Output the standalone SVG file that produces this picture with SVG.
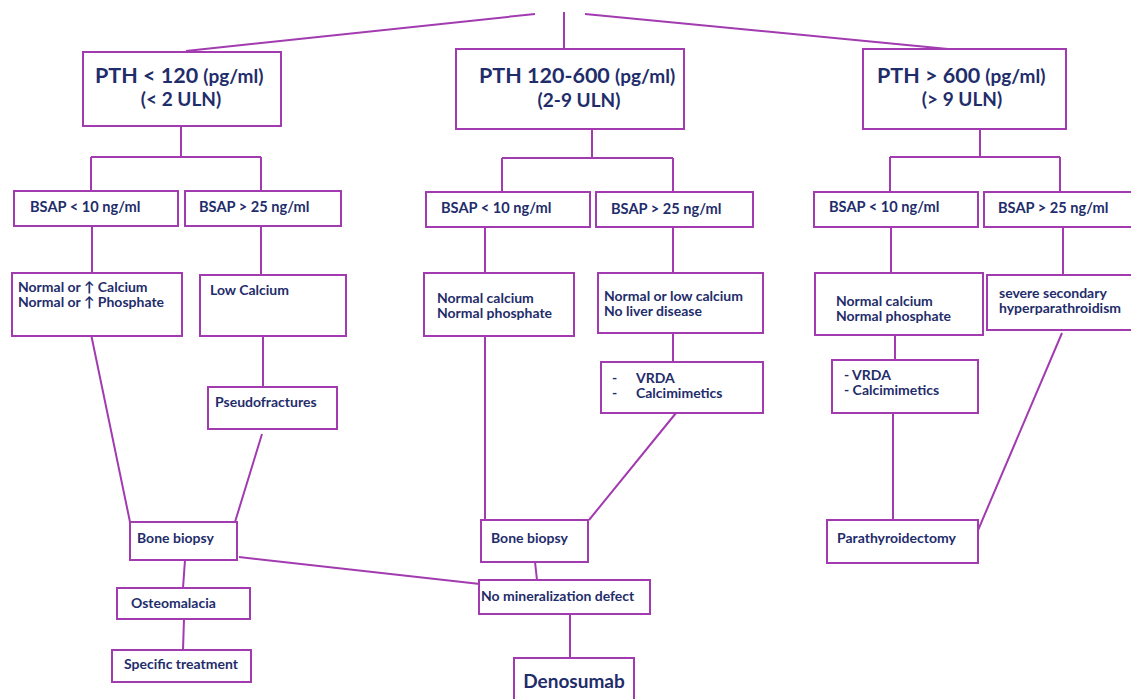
<svg xmlns="http://www.w3.org/2000/svg" width="1131" height="699" viewBox="0 0 1131 699">
<style>
.b{fill:#fff;stroke:#A23BB0;stroke-width:2}
.c{fill:none;stroke:#A23BB0;stroke-width:2}
text{font-family:Lato,"Open Sans","Liberation Sans",sans-serif;font-weight:bold;fill:#1F2D6B}
.t{font-size:14px}
.s{font-size:14.6px}
.h{font-size:21.5px}
.hs{font-size:19px}
</style>
<rect width="1131" height="699" fill="#fff"/>
<g id="connectors">
<path class="c" d="M535,14 L186,51 M564,12 L564,49 M585,14 L948,49"/>
<path class="c" d="M181,126 V157 M91,157 H261 M91,157 V191 M261,157 V191"/>
<path class="c" d="M592,129 V158 M502,158 H673 M502,158 V192 M673,158 V192"/>
<path class="c" d="M980,129 V157 M890,157 H1060 M890,157 V192 M1060,157 V192"/>
<path class="c" d="M92,226 V273 M261,226 V275 M91,334 L130,522 M263,336 V387 M262,434 L235,522"/>
<path class="c" d="M185,560 L183,588 M184,619 L183,650 M239,557 L480,584"/>
<path class="c" d="M485,227 V273 M673,227 V273 M485,336 V520 M673,333 V362 M676,413 L589,520 M535,562 L537,580 M570,614 V658"/>
<path class="c" d="M891,227 V273 M1063,227 V275 M895,335 V360 M893,413 V520 M1062,333 L973,542"/>
</g>
<g id="pth1"><rect class="b" x="83" y="52" width="198" height="74"/><text x="95" y="83"><tspan class="h">PTH &lt; 120 </tspan><tspan class="hs">(pg/ml)</tspan></text><text class="hs" x="181" y="106" text-anchor="middle">(&lt; 2 ULN)</text></g>
<g id="pth2"><rect class="b" x="456" y="49" width="228" height="80"/><text x="479" y="83"><tspan class="h">PTH 120-600 </tspan><tspan class="hs">(pg/ml)</tspan></text><text class="hs" x="579" y="107" text-anchor="middle">(2-9 ULN)</text></g>
<g id="pth3"><rect class="b" x="863" y="49" width="203" height="80"/><text x="877" y="83"><tspan class="h">PTH &gt; 600 </tspan><tspan class="hs">(pg/ml)</tspan></text><text class="hs" x="962" y="106" text-anchor="middle">(&gt; 9 ULN)</text></g>
<g id="bsap1a"><rect class="b" x="14" y="191" width="164" height="35"/><text class="s" x="30" y="212">BSAP &lt; 10 ng/ml</text></g>
<g id="bsap1b"><rect class="b" x="185" y="191" width="156" height="35"/><text class="s" x="199" y="212">BSAP &gt; 25 ng/ml</text></g>
<g id="bsap2a"><rect class="b" x="426" y="192" width="164" height="35"/><text class="s" x="441" y="213">BSAP &lt; 10 ng/ml</text></g>
<g id="bsap2b"><rect class="b" x="596" y="192" width="157" height="35"/><text class="s" x="611" y="214">BSAP &gt; 25 ng/ml</text></g>
<g id="bsap3a"><rect class="b" x="814" y="192" width="164" height="35"/><text class="s" x="829" y="212">BSAP &lt; 10 ng/ml</text></g>
<g id="bsap3b"><rect class="b" x="984" y="192" width="150" height="35"/><text class="s" x="998" y="213">BSAP &gt; 25 ng/ml</text></g>
<g id="n1a"><rect class="b" x="12" y="273" width="170" height="63"/><text class="t" x="18" y="292">Normal or ↑ Calcium</text><text class="t" x="18" y="307">Normal or ↑ Phosphate</text></g>
<g id="n1b"><rect class="b" x="200" y="275" width="146" height="61"/><text class="t" x="210" y="295">Low Calcium</text></g>
<g id="pseudo"><rect class="b" x="208" y="387" width="129" height="42"/><text class="t" x="215" y="407">Pseudofractures</text></g>
<g id="bb1"><rect class="b" x="130" y="522" width="107" height="38"/><text class="t" x="137" y="543">Bone biopsy</text></g>
<g id="osteo"><rect class="b" x="117" y="588" width="133" height="31"/><text class="t" x="131" y="608">Osteomalacia</text></g>
<g id="spec"><rect class="b" x="112" y="650" width="139" height="32"/><text class="t" x="124" y="669">Specific treatment</text></g>
<g id="n2a"><rect class="b" x="424" y="273" width="150" height="63"/><text class="t" x="437" y="303">Normal calcium</text><text class="t" x="437" y="318">Normal phosphate</text></g>
<g id="n2b"><rect class="b" x="598" y="273" width="165" height="60"/><text class="t" x="604" y="301">Normal or  low calcium</text><text class="t" x="604" y="316">No liver disease</text></g>
<g id="vrda2"><rect class="b" x="601" y="362" width="162" height="51"/><text class="t" x="612" y="383">-</text><text class="t" x="636" y="383">VRDA</text><text class="t" x="612" y="398">-</text><text class="t" x="636" y="398">Calcimimetics</text></g>
<g id="bb2"><rect class="b" x="481" y="520" width="107" height="42"/><text class="t" x="491" y="543">Bone biopsy</text></g>
<g id="nomin"><rect class="b" x="479" y="580" width="171" height="34"/><text class="t" x="481" y="601">No mineralization defect</text></g>
<g id="deno"><rect class="b" x="514" y="658" width="120" height="50"/><text x="574" y="688" text-anchor="middle" style="font-size:19px">Denosumab</text></g>
<g id="n3a"><rect class="b" x="815" y="273" width="168" height="62"/><text class="t" x="836" y="306">Normal calcium</text><text class="t" x="836" y="321">Normal phosphate</text></g>
<g id="n3b"><rect class="b" x="987" y="275" width="147" height="55"/><text class="t" x="999" y="298">severe secondary</text><text class="t" x="999" y="313">hyperparathroidism</text></g>
<g id="vrda3"><rect class="b" x="832" y="360" width="146" height="53"/><text class="t" x="844" y="380">- VRDA</text><text class="t" x="844" y="395">- Calcimimetics</text></g>
<g id="ptx"><rect class="b" x="827" y="520" width="151" height="43"/><text class="t" x="837" y="543">Parathyroidectomy</text></g>
</svg>
